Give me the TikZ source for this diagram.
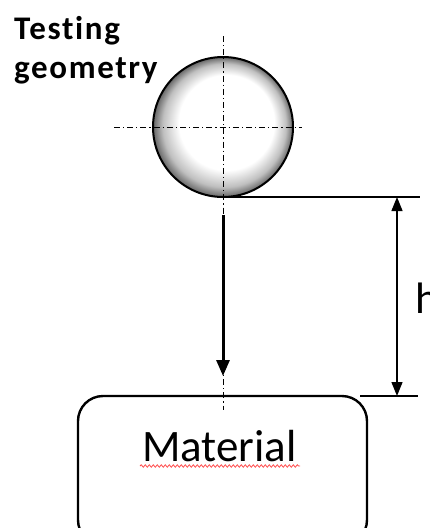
\documentclass[tikz,border=0pt]{standalone}
\usepackage{fontspec}
\setmainfont{Carlito}
\newfontfamily\labelfont[LetterSpace=5,Ligatures=NoCommon]{Carlito}
\usetikzlibrary{arrows.meta,decorations.pathmorphing}
\pgfdeclareradialshading{sphere}{\pgfpoint{4bp}{5bp}}{%
  color(0bp)=(white);
  color(17bp)=(white);
  color(22bp)=(black!25);
  color(25bp)=(black!60)}
\tikzset{
  centerline/.style={line width=0.9pt, dash pattern=on 6pt off 3pt on 1.2pt off 3pt},
  guide/.style={line width=1.1pt},
  fallarrow/.style={line width=3pt, -{Triangle[length=16pt,width=13pt]}},
  dimarrow/.style={line width=1.3pt, {Triangle[length=14pt,width=11pt]}-{Triangle[length=14pt,width=11pt]}},
  matbox/.style={draw, line width=2.4pt, rounded corners=25pt},
  squiggle/.style={red!70, line width=0.8pt, decorate, decoration={snake, amplitude=1.2pt, segment length=4pt}},
  lbl/.style={anchor=base west, inner sep=0pt, font=\labelfont\fontsize{33}{38}\selectfont\bfseries},
}
\begin{document}
\begin{tikzpicture}[x=1pt,y=-1pt]
\useasboundingbox (0,0) rectangle (430,528);
\clip (0,0) rectangle (430,528);
% label
\node[lbl] (tg) at (14,39) {Testing};
\node[lbl] (tg2) at (14,78) {geometry};
% sphere
\coordinate (c) at (223,127);
\shade[shading=sphere] (c) circle (70);
\draw[line width=2pt] (c) circle (70);
\coordinate (bot) at (223,197);
% center lines
\coordinate (vtop) at (223,36);
\coordinate (vbot) at (223,410);
\coordinate (hl) at (114,127);
\coordinate (hr) at (302,127);
\draw[centerline] (vtop) -- (vbot);
\draw[centerline] (hl) -- (hr);
% guide lines
\coordinate (g1r) at (420,197);
\coordinate (g2l) at (360,396);
\coordinate (g2r) at (418,396);
\draw[guide] (bot) -- (g1r);
\draw[guide] (g2l) -- (g2r);
% dimension arrow
\coordinate (d1) at (397,197);
\coordinate (d2) at (397,396);
\draw[dimarrow] (d1) -- (d2);
\node[anchor=base west, inner sep=0pt, font=\fontsize{44}{50}\selectfont] (h) at (415,313) {h};
% fall arrow
\coordinate (a1) at (223,215);
\coordinate (a2) at (223,376);
\draw[fallarrow] (a1) -- (a2);
% material box
\draw[matbox] (78,396) rectangle (367,545);
\node[anchor=base west, inner sep=0pt, font=\fontsize{45}{50}\selectfont] (mat) at (142,461) {Material};
\coordinate (s1) at (140,466);
\coordinate (s2) at (300,466);
\draw[squiggle] (s1) -- (s2);
\end{tikzpicture}
\end{document}
